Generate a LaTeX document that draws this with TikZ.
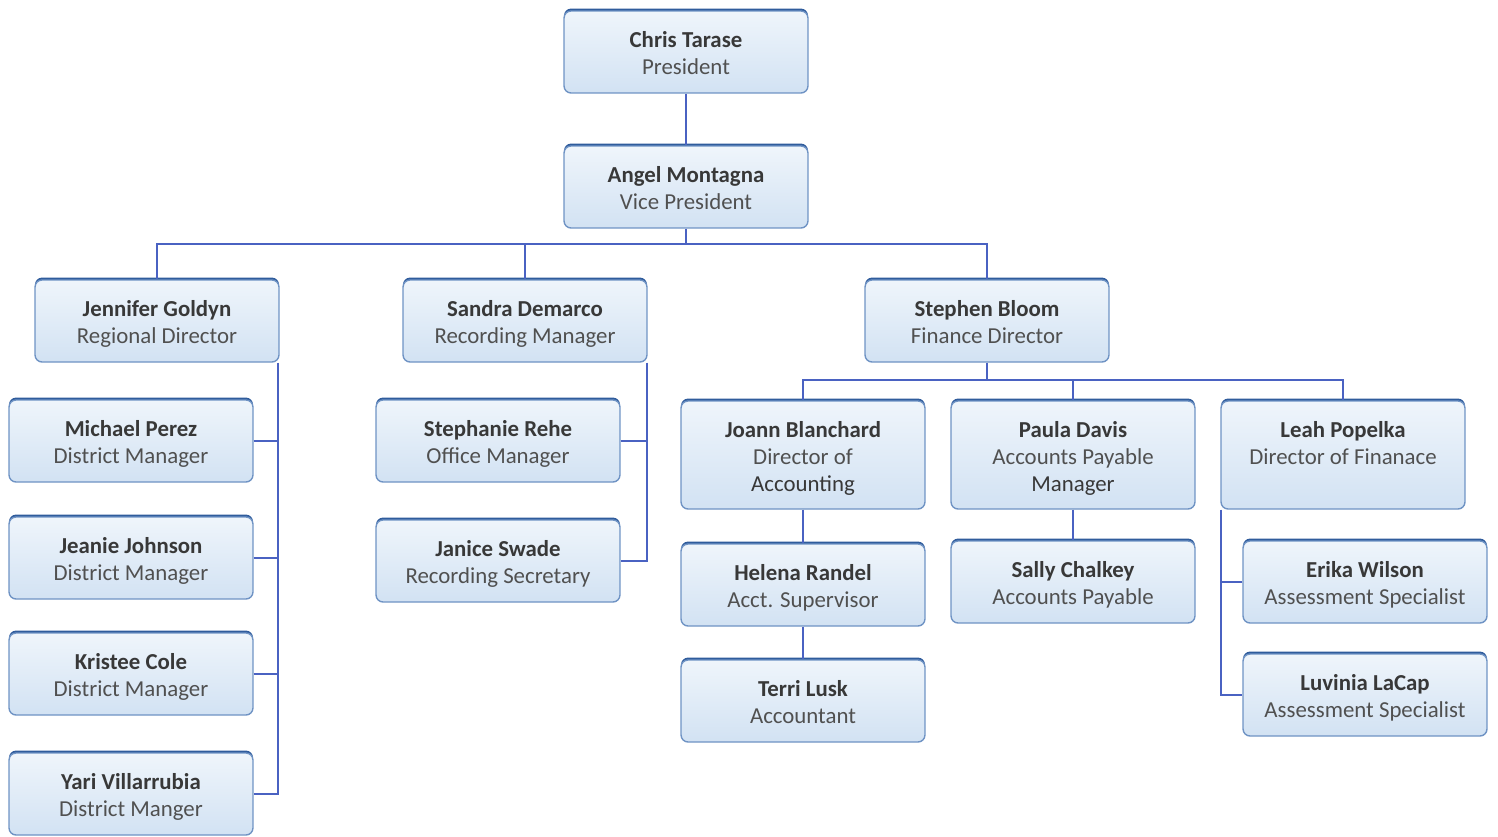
\documentclass[tikz,border=0pt]{standalone}
\usepackage{fontspec}
\setmainfont{Carlito}
\usetikzlibrary{positioning,calc}
\definecolor{boxedge}{HTML}{6F93C4}
\definecolor{boxrim}{HTML}{2F5C9C}
\definecolor{boxtop}{HTML}{EFF5FB}
\definecolor{boxbot}{HTML}{D2E2F3}
\definecolor{linkblue}{HTML}{4A62C2}
\definecolor{nameink}{HTML}{383838}
\definecolor{roleink}{HTML}{505050}

\newcommand{\who}[2]{\textbf{\rule{0pt}{15pt}#1}\\\color{roleink}#2\strut}

\begin{document}
\begin{tikzpicture}[x=0.02cm,y=-0.02cm,
  person/.style={draw=boxedge,line width=0.8pt,rounded corners=4pt,
    top color=boxtop,bottom color=boxbot,
    preaction={fill=boxrim,transform canvas={yshift=1.4pt}},
    minimum width=4.88cm,minimum height=1.64cm,inner sep=2pt,align=center,
    font=\fontsize{13}{15.3}\selectfont,text=nameink},
  tall/.style={person,minimum height=2.16cm},
  link/.style={linkblue,line width=1.1pt}]
\useasboundingbox (0,0) rectangle (1498,836);
% top of the chart
\node[person] (ct) at (686,52) {\who{Chris Tarase}{President}};
\node[person] (am) at (686,187) {\who{Angel Montagna}{Vice President}};
% directors
\node[person] (jg) at (157,321) {\who{Jennifer Goldyn}{Regional Director}};
\node[person] (sd) at (525,321) {\who{Sandra Demarco}{Recording Manager}};
\node[person] (sb) at (987,321) {\who{Stephen Bloom}{Finance Director}};
% regional staff
\node[person] (mp) at (131,441) {\who{Michael Perez}{District Manager}};
\node[person] (jj) at (131,558) {\who{Jeanie Johnson}{District Manager}};
\node[person] (kc) at (131,674) {\who{Kristee Cole}{District Manager}};
\node[person] (yv) at (131,794) {\who{Yari Villarrubia}{District Manger}};
% recording staff
\node[person] (sr) at (498,441) {\who{Stephanie Rehe}{Office Manager}};
\node[person] (js) at (498,561) {\who{Janice Swade}{Recording Secretary}};
% finance staff
\node[tall] (jb) at (803,455) {\who{Joann Blanchard}{Director of\\Accounting}};
\node[tall] (pd) at (1073,455) {\who{Paula Davis}{Accounts Payable\\Manager}};
\node[tall] (lp) at (1343,455) {\who{Leah Popelka}{Director of Finanace\\\mbox{}}};
\node[person] (hr) at (803,585) {\who{Helena Randel}{Acct. Supervisor}};
\node[person] (tl) at (803,701) {\who{Terri Lusk}{Accountant}};
\node[person] (sc) at (1073,582) {\who{Sally Chalkey}{Accounts Payable}};
\node[person] (ew) at (1365,582) {\who{Erika Wilson}{Assessment Specialist}};
\node[person] (ll) at (1365,695) {\who{Luvinia LaCap}{Assessment Specialist}};

% connectors
\coordinate (vpbus) at (686,244);
\coordinate (fbus) at (987,380);
\coordinate (jgrail) at ($(jg.south east)+(-2,0)$);
\coordinate (sdrail) at ($(sd.south east)+(-1,0)$);
\coordinate (lprail) at ($(lp.south west)+(1,0)$);
\draw[link] (ct) -- (am);
\draw[link] (am) -- (vpbus);
\draw[link] (jg.north) |- (vpbus) -| (sb.north);
\draw[link] (sd.north) |- (vpbus);
\draw[link] (jgrail) |- (yv.east);
\draw[link] (mp.east) -| (jgrail);
\draw[link] (jj.east) -| (jgrail);
\draw[link] (kc.east) -| (jgrail);
\draw[link] (sdrail) |- (js.east);
\draw[link] (sr.east) -| (sdrail);
\draw[link] (sb) -- (fbus);
\draw[link] (jb.north) |- (fbus) -| (lp.north);
\draw[link] (pd.north) |- (fbus);
\draw[link] (jb) -- (hr);
\draw[link] (hr) -- (tl);
\draw[link] (pd) -- (sc);
\draw[link] (lprail) |- (ll.west);
\draw[link] (ew.west) -| (lprail);
\end{tikzpicture}
\end{document}
